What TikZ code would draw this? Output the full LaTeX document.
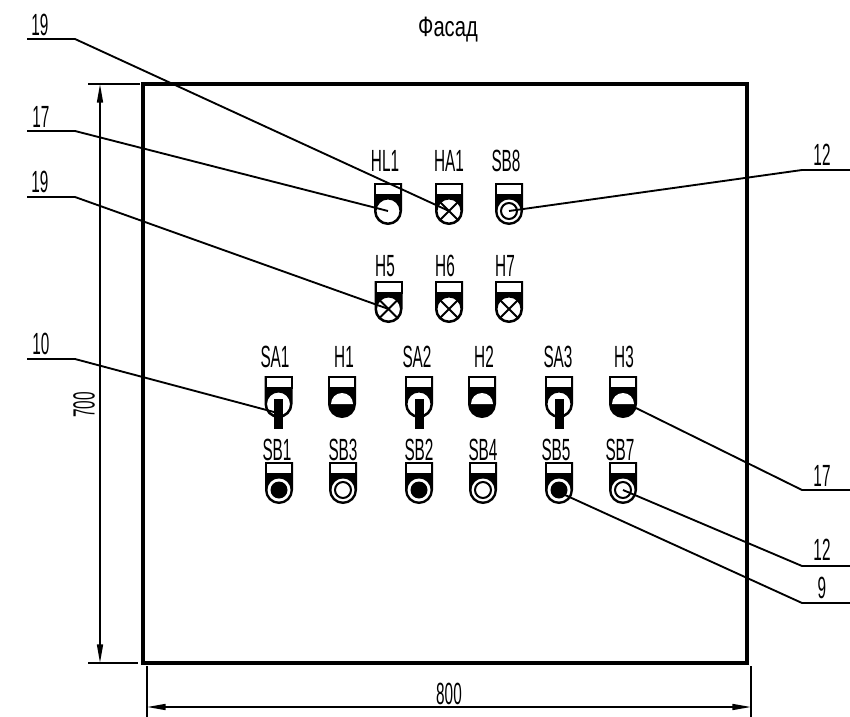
\documentclass[tikz,border=0pt]{standalone}
\usepackage{fontspec}
\setmainfont[FakeStretch=0.5]{Liberation Sans}
\newfontfamily\titlefont[FakeStretch=0.72]{Liberation Sans}
\usetikzlibrary{arrows.meta}
\tikzset{
  partlabel/.style={inner sep=0pt,font=\fontsize{23}{23}\selectfont},
  leader/.style={line width=1.4pt,black},
  dimline/.style={line width=1.2pt,black},
  dimarrow/.style={line width=1.2pt,black,{Triangle[length=14pt,width=4.5pt]}-{Triangle[length=14pt,width=4.5pt]}},
  panel/.style={line width=3.4pt,black},
  outline/.style={line width=1.5pt,black},
}
% #1 name, #2 x centre, #3 y of top, #4 drawing of the face, relative to the circle centre
\newcommand{\devicebody}[4]{%
  \begin{scope}[shift={(#2,#3)}]
    \filldraw[outline] (-13,0) -- (13,0) -- (13,27) arc[start angle=0,end angle=180,radius=13] -- cycle;
    \filldraw[outline,fill=white] (-13,0) rectangle (13,11);
    \coordinate (#1) at (0,27);
    \begin{scope}[shift={(0,27)}]#4\end{scope}
  \end{scope}}
\newcommand{\facewhite}{\filldraw[outline,fill=white] (0,0) circle[radius=12.5];}
\newcommand{\facecross}{\filldraw[outline,fill=white] (0,0) circle[radius=12.5];
  \draw[outline] (-8.8,-8.8) -- (8.8,8.8) (-8.8,8.8) -- (8.8,-8.8);}
\newcommand{\facering}{\fill[white] (0,0) circle[radius=11.5];
  \draw[outline] (0,0) circle[radius=8];}
\newcommand{\facedisc}{\fill[white] (0,0) circle[radius=11.5];
  \fill[black] (0,0) circle[radius=8.5];}
\newcommand{\facehalf}{\fill[white] (-11,0) arc[start angle=180,end angle=360,radius=11] -- cycle;}
\newcommand{\facetoggle}{\filldraw[outline,fill=white] (0,0) circle[radius=12.5];
  \fill[black] (-4.5,-5) rectangle (4.5,25);}
\begin{document}
\begin{tikzpicture}[x=0.75pt,y=-0.75pt]
\useasboundingbox (0,0) rectangle (850,717);

\node[inner sep=0pt,font=\titlefont\fontsize{21}{21}\selectfont] (title) at (448,30) {Фасад};

% panel
\draw[panel] (143,84) rectangle (747,663);

% dimensions
\coordinate (v1a) at (88,84);   \coordinate (v1b) at (140,84);
\coordinate (v2a) at (88,663);  \coordinate (v2b) at (138,663);
\coordinate (h1a) at (147,666); \coordinate (h1b) at (147,717);
\coordinate (h2a) at (751,666); \coordinate (h2b) at (751,717);
\coordinate (vd1) at (100,84);  \coordinate (vd2) at (100,663);
\coordinate (hd1) at (147,707); \coordinate (hd2) at (751,707);
\draw[dimline] (v1a) -- (v1b);
\draw[dimline] (v2a) -- (v2b);
\draw[dimline] (h1a) -- (h1b);
\draw[dimline] (h2a) -- (h2b);
\draw[dimarrow] (vd1) -- (vd2);
\draw[dimarrow] (hd1) -- (hd2);
\node[partlabel] (dimh) at (449,694) {800};
\node[partlabel,rotate=90] (dimv) at (84,405) {700};

% devices
\devicebody{HL1}{388}{184}{\facewhite}
\devicebody{HA1}{449}{184}{\facecross}
\devicebody{SB8}{509}{184}{\facering}
\devicebody{H5}{388.5}{282}{\facecross}
\devicebody{H6}{449}{282}{\facecross}
\devicebody{H7}{509}{282}{\facecross}
\devicebody{SA1}{278.5}{377}{\facetoggle}
\devicebody{H1}{342}{377}{\facehalf}
\devicebody{SA2}{419}{377}{\facetoggle}
\devicebody{H2}{482}{377}{\facehalf}
\devicebody{SA3}{559}{377}{\facetoggle}
\devicebody{H3}{623}{377}{\facehalf}
\devicebody{SB1}{279}{463}{\facedisc}
\devicebody{SB3}{343}{463}{\facering}
\devicebody{SB2}{419}{463}{\facedisc}
\devicebody{SB4}{483}{463}{\facering}
\devicebody{SB5}{559}{463}{\facedisc}
\devicebody{SB7}{623}{463}{\facering}

% device labels
\node[partlabel] (tHL1) at (385,161) {HL1};
\node[partlabel] (tHA1) at (449,161) {HA1};
\node[partlabel] (tSB8) at (506,161) {SB8};
\node[partlabel] (tH5) at (385,266) {H5};
\node[partlabel] (tH6) at (445,266) {H6};
\node[partlabel] (tH7) at (505,266) {H7};
\node[partlabel] (tSA1) at (275,357) {SA1};
\node[partlabel] (tH1) at (344,357) {H1};
\node[partlabel] (tSA2) at (417,357) {SA2};
\node[partlabel] (tH2) at (484,357) {H2};
\node[partlabel] (tSA3) at (558,357) {SA3};
\node[partlabel] (tH3) at (624,357) {H3};
\node[partlabel] (tSB1) at (277,450) {SB1};
\node[partlabel] (tSB3) at (343,450) {SB3};
\node[partlabel] (tSB2) at (419,450) {SB2};
\node[partlabel] (tSB4) at (483,450) {SB4};
\node[partlabel] (tSB5) at (556,450) {SB5};
\node[partlabel] (tSB7) at (620,450) {SB7};

% leaders, left
\coordinate (a1) at (27,39);   \coordinate (k1) at (75,39);
\coordinate (a2) at (27,131);  \coordinate (k2) at (75,131);
\coordinate (a3) at (27,197);  \coordinate (k3) at (75,197);
\coordinate (a4) at (27,359);  \coordinate (k4) at (75,359);
\coordinate (e4) at (274,412);
\draw[leader] (a1) -- (k1) -- (HA1);
\draw[leader] (a2) -- (k2) -- (HL1);
\draw[leader] (a3) -- (k3) -- (H5);
\draw[leader] (a4) -- (k4) -- (e4);
\node[partlabel] (n1) at (40,25) {19};
\node[partlabel] (n2) at (41,117) {17};
\node[partlabel] (n3) at (40,182) {19};
\node[partlabel] (n4) at (41,344) {10};

% leaders, right
\coordinate (b1) at (850,170); \coordinate (m1) at (802,170);
\coordinate (b2) at (850,490); \coordinate (m2) at (802,490);
\coordinate (b3) at (850,566); \coordinate (m3) at (802,566);
\coordinate (b4) at (850,603); \coordinate (m4) at (802,603);
\coordinate (e2) at (636,408);
\coordinate (e4r) at (565,495);
\draw[leader] (b1) -- (m1) -- (SB8);
\draw[leader] (b2) -- (m2) -- (e2);
\draw[leader] (b3) -- (m3) -- (SB7);
\draw[leader] (b4) -- (m4) -- (e4r);
\node[partlabel] (n5) at (822,155) {12};
\node[partlabel] (n6) at (822,476) {17};
\node[partlabel] (n7) at (822,550) {12};
\node[partlabel] (n8) at (822,588) {9};
\end{tikzpicture}
\end{document}
